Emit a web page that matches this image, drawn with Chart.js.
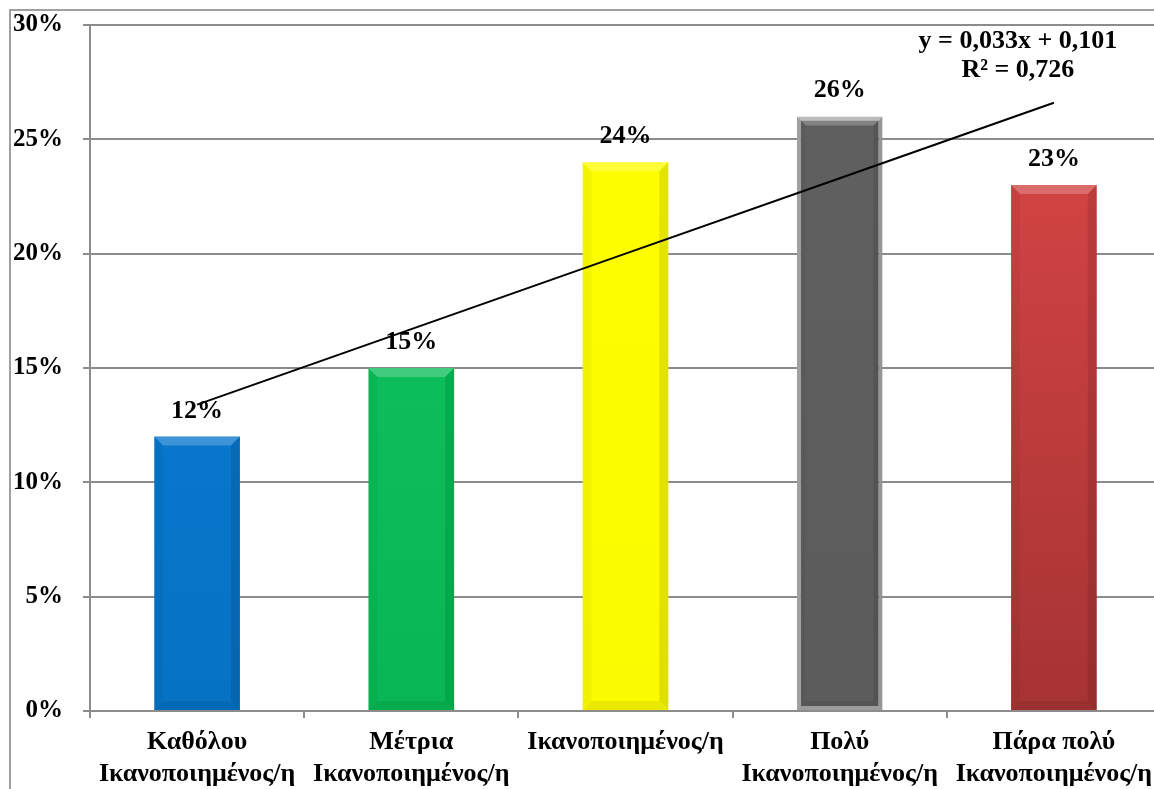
<!DOCTYPE html>
<html>
<head>
<meta charset="utf-8">
<script src="https://cdn.jsdelivr.net/npm/chart.js@4/dist/chart.umd.min.js"></script>
<style>
  html, body { margin: 0; padding: 0; background: #fff; overflow: hidden; }
  #wrap { position: relative; width: 1175px; height: 789px; }
</style>
</head>
<body>
<div id="wrap"><canvas id="satChart" width="1175" height="789"></canvas></div>
<script>
// data
var categories = [
    ['Καθόλου', 'Ικανοποιημένος/η'],
    ['Μέτρια', 'Ικανοποιημένος/η'],
    'Ικανοποιημένος/η',
    ['Πολύ', 'Ικανοποιημένος/η'],
    ['Πάρα πολύ', 'Ικανοποιημένος/η']
];
var percentValues = [12, 15, 24, 26, 23];
var trendValues = [13.4, 16.7, 20.0, 23.3, 26.6];   // y = 0,033x + 0,101
var trendLabel = ['y = 0,033x + 0,101', 'R² = 0,726'];
var yTicks = [0, 5, 10, 15, 20, 25, 30];

var barTop = ['#0a7dd6', '#10c461', '#ffff00', '#606060', '#de4848'];
var barBottom = ['#0672c4', '#08b753', '#fafa00', '#5c5c5c', '#a63333'];
var SERIF = '"Liberation Serif", "Times New Roman", serif';

function barFill(ctx) {
    var chart = ctx.chart;
    var area = chart.chartArea;
    if (!area) return barTop[ctx.dataIndex];
    var g = chart.ctx.createLinearGradient(0, area.top, 0, area.bottom);
    g.addColorStop(0, barTop[ctx.dataIndex]);
    g.addColorStop(1, barBottom[ctx.dataIndex]);
    return g;
}

// frame, bevels and text labels
var decorPlugin = {
    id: 'decor',
    beforeDraw: function (chart) {
        var c = chart.ctx;
        c.save();
        c.strokeStyle = '#a0a0a0';
        c.lineWidth = 2;
        c.beginPath();
        c.moveTo(10, chart.height);
        c.lineTo(10, 10);
        c.lineTo(chart.width, 10);
        c.stroke();
        c.restore();
    },
    afterDatasetDraw: function (chart, args) {
        if (args.index !== 0) return;
        var c = chart.ctx;
        args.meta.data.forEach(function (bar, i) {
            var x0 = bar.x - bar.width / 2, x1 = bar.x + bar.width / 2;
            var top = bar.y, bot = bar.base, b = 9;
            c.save();
            c.fillStyle = 'rgba(255,255,255,0.22)';
            c.beginPath();
            c.moveTo(x0, top); c.lineTo(x1, top); c.lineTo(x1 - b, top + b); c.lineTo(x0 + b, top + b);
            c.closePath(); c.fill();
            c.fillStyle = 'rgba(0,0,0,0.10)';
            c.beginPath();
            c.moveTo(x1, top); c.lineTo(x1, bot); c.lineTo(x1 - b, bot - b); c.lineTo(x1 - b, top + b);
            c.closePath(); c.fill();
            c.fillStyle = 'rgba(0,0,0,0.07)';
            c.beginPath();
            c.moveTo(x0, bot); c.lineTo(x1, bot); c.lineTo(x1 - b, bot - b); c.lineTo(x0 + b, bot - b);
            c.closePath(); c.fill();
            c.fillStyle = 'rgba(0,0,0,0.04)';
            c.beginPath();
            c.moveTo(x0, top); c.lineTo(x0 + b, top + b); c.lineTo(x0 + b, bot - b); c.lineTo(x0, bot);
            c.closePath(); c.fill();
            c.restore();
        });
    },
    afterDraw: function (chart) {
        var c = chart.ctx;
        var bars = chart.getDatasetMeta(0).data;
        c.save();
        c.fillStyle = '#000';
        c.font = 'bold 26px ' + SERIF;
        c.textAlign = 'center';
        c.textBaseline = 'alphabetic';
        bars.forEach(function (bar, i) {
            c.fillText(percentValues[i] + '%', bar.x, bar.y - 19);
        });
        var pts = chart.getDatasetMeta(1).data;
        var last = pts[pts.length - 1];
        c.fillText(trendLabel[0], last.x - 36, 48);
        c.fillText(trendLabel[1], last.x - 36, 77);
        c.restore();
    }
};

function noPad(scale) {
    scale.paddingTop = 0;
    scale.paddingBottom = 0;
    scale.paddingLeft = 0;
    scale.paddingRight = 0;
}

var ctx = document.getElementById('satChart').getContext('2d');
var satChart = new Chart(ctx, {
    data: {
        labels: categories,
        datasets: [
            {
                type: 'bar',
                data: percentValues,
                backgroundColor: barFill,
                borderColor: ['#0a6fbd', '#08a84d', '#d6d600', '#a8a8a8', '#9a2e2e'],
                borderWidth: [0, 0, 0, 4, 0],
                borderSkipped: false,
                barPercentage: 0.8,
                categoryPercentage: 0.5,
                order: 1
            },
            {
                type: 'line',
                data: trendValues,
                borderColor: '#000',
                borderWidth: 2,
                pointRadius: 0,
                fill: false,
                tension: 0,
                order: 0
            }
        ]
    },
    options: {
        responsive: false,
        animation: false,
        devicePixelRatio: 1,
        layout: { padding: { top: 25, right: 14, left: 0, bottom: 0 } },
        plugins: {
            legend: { display: false },
            tooltip: { enabled: false }
        },
        scales: {
            x: {
                grid: { drawOnChartArea: false, color: '#8c8c8c', lineWidth: 2, tickLength: 7 },
                border: { color: '#8c8c8c', width: 2 },
                ticks: {
                    color: '#000',
                    font: { family: SERIF, size: 26, weight: 'bold', lineHeight: 1.2 },
                    padding: 9,
                    maxRotation: 0,
                    autoSkip: false
                },
                afterFit: function (scale) { scale.height = 78; noPad(scale); }
            },
            y: {
                min: 0,
                max: 30,
                afterBuildTicks: function (scale) {
                    scale.ticks = yTicks.map(function (v) { return { value: v }; });
                },
                grid: { color: '#8c8c8c', lineWidth: 2, tickLength: 7 },
                border: { color: '#8c8c8c', width: 2 },
                ticks: {
                    color: '#000',
                    font: { family: SERIF, size: 25, weight: 'bold' },
                    padding: 20,
                    callback: function (v) { return v + '%'; }
                },
                afterFit: function (scale) { scale.width = 90; noPad(scale); }
            }
        }
    },
    plugins: [decorPlugin]
});
</script>
</body>
</html>
